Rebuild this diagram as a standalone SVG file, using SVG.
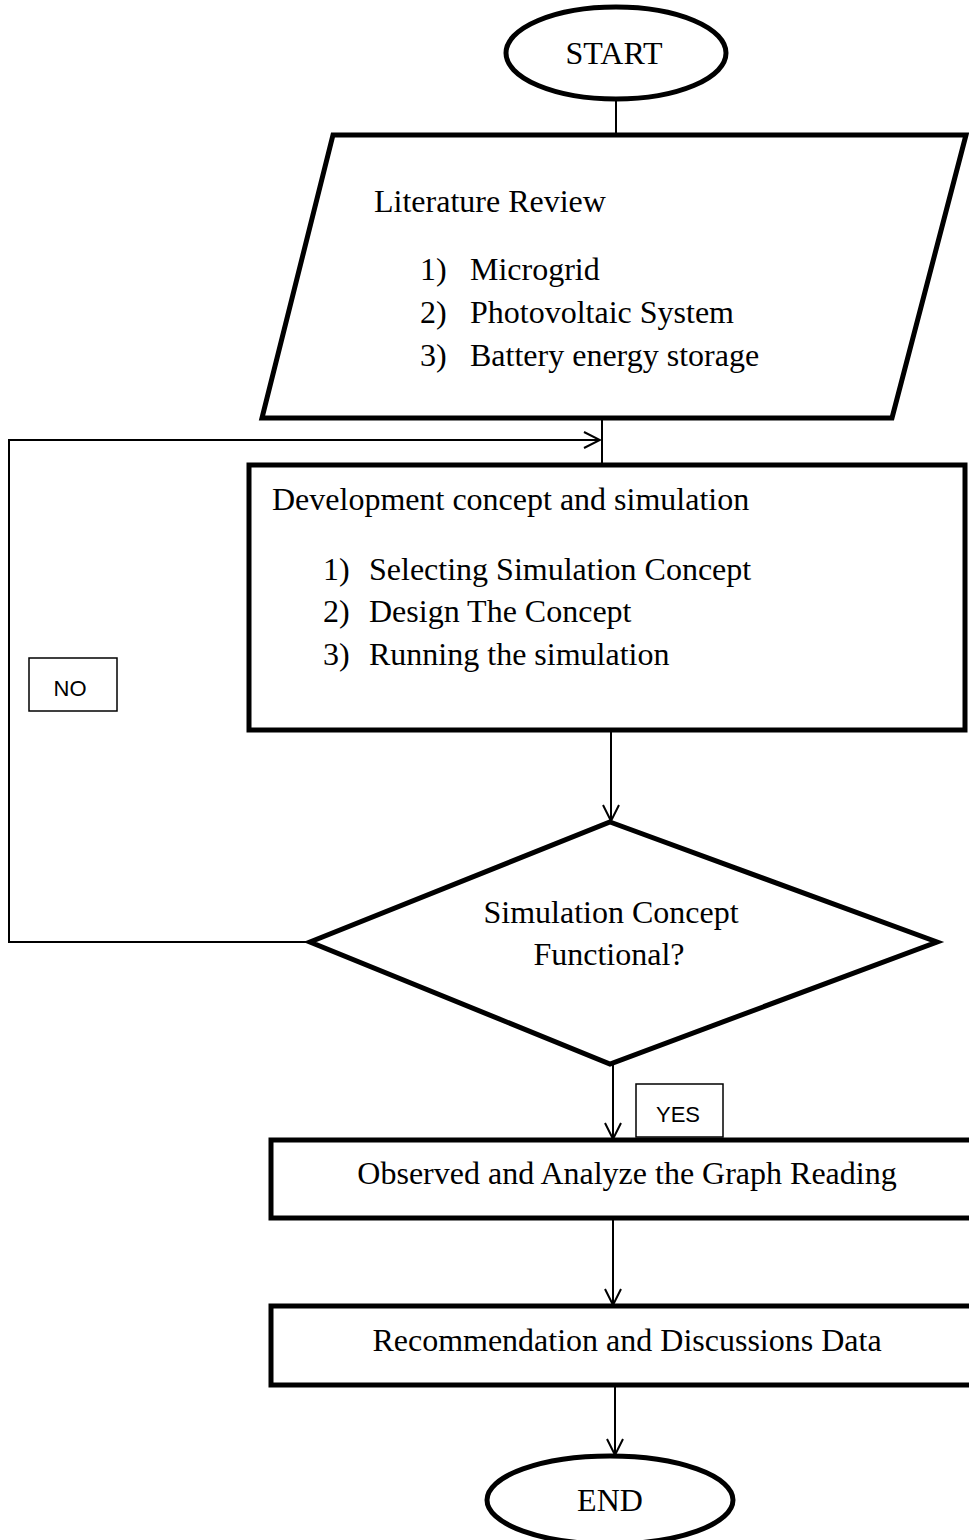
<svg xmlns="http://www.w3.org/2000/svg" width="969" height="1540" viewBox="0 0 969 1540">
<defs>
<marker id="arr" viewBox="0 0 20 20" refX="18" refY="10" markerWidth="20" markerHeight="20" markerUnits="userSpaceOnUse" orient="auto">
<path d="M2,2 L18,10 L2,18" fill="none" stroke="#000" stroke-width="2"/>
</marker>
<style>
.shape{fill:#fff;stroke:#000;stroke-width:5;stroke-linejoin:miter}
.conn{fill:none;stroke:#000;stroke-width:2}
.t{font-family:"Liberation Serif","Times New Roman",serif;font-size:32px;fill:#000}
.c{text-anchor:middle}
.lbl{fill:#fff;stroke:#000;stroke-width:1.5}
.s{font-family:"Liberation Sans",Arial,sans-serif;font-size:22px;fill:#000;text-anchor:middle}
</style>
</defs>
<rect width="969" height="1540" fill="#fff"/>
<g id="connectors">
<line class="conn" x1="616" y1="100" x2="616" y2="135"/>
<line class="conn" x1="602" y1="418" x2="602" y2="465"/>
<polyline class="conn" points="310,942 9,942 9,440 600,440" marker-end="url(#arr)"/>
<line class="conn" x1="611" y1="730" x2="611" y2="821" marker-end="url(#arr)"/>
<line class="conn" x1="613" y1="1064" x2="613" y2="1139" marker-end="url(#arr)"/>
<line class="conn" x1="613" y1="1218" x2="613" y2="1305" marker-end="url(#arr)"/>
<line class="conn" x1="615" y1="1385" x2="615" y2="1455" marker-end="url(#arr)"/>
</g>
<g id="start">
<ellipse class="shape" cx="616" cy="53" rx="110" ry="46"/>
<text class="t c" x="614" y="64">START</text>
</g>
<g id="literature">
<polygon class="shape" points="333,135 966,135 892,418 262,418"/>
<text class="t" x="374" y="212">Literature Review</text>
<text class="t" x="420" y="280">1)</text><text class="t" x="470" y="280">Microgrid</text>
<text class="t" x="420" y="323">2)</text><text class="t" x="470" y="323">Photovoltaic System</text>
<text class="t" x="420" y="366">3)</text><text class="t" x="470" y="366">Battery energy storage</text>
</g>
<g id="development">
<rect class="shape" x="249" y="465" width="716" height="265"/>
<text class="t" x="272" y="510">Development concept and simulation</text>
<text class="t" x="323" y="580">1)</text><text class="t" x="369" y="580">Selecting Simulation Concept</text>
<text class="t" x="323" y="622">2)</text><text class="t" x="369" y="622">Design The Concept</text>
<text class="t" x="323" y="665">3)</text><text class="t" x="369" y="665">Running the simulation</text>
</g>
<g id="decision">
<polygon class="shape" points="610,822 937,942 610,1064 310,942"/>
<text class="t c" x="611" y="923">Simulation Concept</text>
<text class="t c" x="609" y="965">Functional?</text>
</g>
<g id="no-label">
<rect class="lbl" x="29" y="658" width="88" height="53"/>
<text class="s" x="70" y="696">NO</text>
</g>
<g id="yes-label">
<rect class="lbl" x="636" y="1084" width="87" height="53"/>
<text class="s" x="678" y="1122">YES</text>
</g>
<g id="observed">
<rect class="shape" x="271" y="1140" width="710" height="78"/>
<text class="t c" x="627" y="1184">Observed and Analyze the Graph Reading</text>
</g>
<g id="recommendation">
<rect class="shape" x="271" y="1306" width="710" height="79"/>
<text class="t c" x="627" y="1351">Recommendation and Discussions Data</text>
</g>
<g id="end">
<ellipse class="shape" cx="610" cy="1500" rx="123" ry="44"/>
<text class="t c" x="610" y="1511">END</text>
</g>
</svg>
